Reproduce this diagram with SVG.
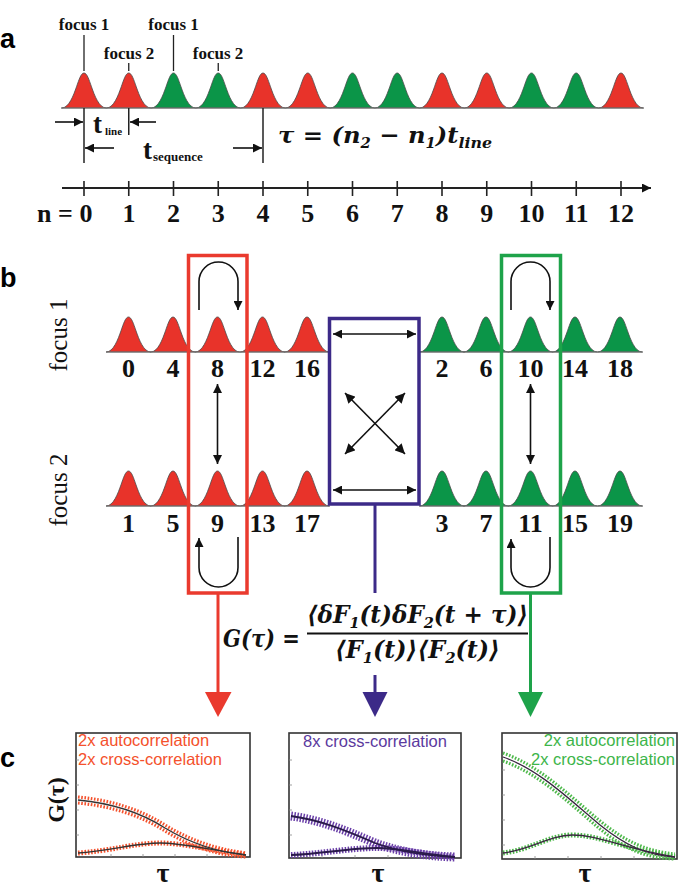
<svg xmlns="http://www.w3.org/2000/svg" xmlns:xlink="http://www.w3.org/1999/xlink" width="700" height="893" viewBox="0 0 700 893">
<style>
.ser{font-family:"Liberation Serif","Times New Roman",serif;font-weight:bold;fill:#111}
.serN{font-family:"Liberation Serif","Times New Roman",serif;fill:#111}
.math{font-family:"DejaVu Serif","Liberation Serif",serif;font-weight:bold;font-style:italic;fill:#111}
.plab{font-family:"Liberation Sans",Arial,sans-serif;font-weight:bold;font-size:27px;fill:#000}
.sans{font-family:"Liberation Sans",Arial,sans-serif;font-size:16.5px}
.red{fill:#E8332A}
.grn{fill:#0B9548}
.pkl{stroke:#4a4a4a;stroke-width:0.8}
.base{stroke:#777;stroke-width:1.2;fill:none}
.blk{stroke:#111;stroke-width:1.6;fill:none}
.box{fill:none;stroke-width:3.5}
.plot{fill:#fff;stroke:#333;stroke-width:1.6}
.tick{stroke:#888;stroke-width:0.8}
</style>
<defs>
<path id="pk" d="M-22.4,0 C-15,0 -10.5,-12.7 -7.5,-21.2 C-5,-28.3 -3,-35 0,-35 C3,-35 5,-28.3 7.5,-21.2 C10.5,-12.7 15,0 22.4,0 Z"/>
<marker id="ah" viewBox="0 0 10 10" refX="10" refY="5" markerWidth="11" markerHeight="9" markerUnits="userSpaceOnUse" orient="auto-start-reverse"><path d="M0,0 L10,5 L0,10 Z" fill="#111"/></marker>
<marker id="ahs" viewBox="0 0 10 10" refX="10" refY="5" markerWidth="11" markerHeight="10" markerUnits="userSpaceOnUse" orient="auto-start-reverse"><path d="M0,0 L10,5 L0,10 Z" fill="#111"/></marker>
</defs>
<rect width="700" height="893" fill="#fff"/>

<!-- panel a -->
<g id="panel-a">
<text class="plab" x="0" y="48">a</text>
<g id="a-labels" class="ser" font-size="17" text-anchor="middle">
<text x="84" y="30">focus 1</text>
<text x="129" y="59">focus 2</text>
<text x="173.5" y="30">focus 1</text>
<text x="218" y="59">focus 2</text>
</g>
<g stroke="#222" stroke-width="1.3">
<line x1="84" y1="35" x2="84" y2="71"/>
<line x1="128.75" y1="63" x2="128.75" y2="71"/>
<line x1="173.5" y1="35" x2="173.5" y2="71"/>
<line x1="218.25" y1="63" x2="218.25" y2="71"/>
</g>
<g id="a-peaks" class="pkl">
<use href="#pk" x="84" y="108" class="red"/>
<use href="#pk" x="128.75" y="108" class="red"/>
<use href="#pk" x="173.5" y="108" class="grn"/>
<use href="#pk" x="218.25" y="108" class="grn"/>
<use href="#pk" x="263" y="108" class="red"/>
<use href="#pk" x="307.75" y="108" class="red"/>
<use href="#pk" x="352.5" y="108" class="grn"/>
<use href="#pk" x="397.25" y="108" class="grn"/>
<use href="#pk" x="442" y="108" class="red"/>
<use href="#pk" x="486.75" y="108" class="red"/>
<use href="#pk" x="531.5" y="108" class="grn"/>
<use href="#pk" x="576.25" y="108" class="grn"/>
<use href="#pk" x="621" y="108" class="red"/>
</g>
<line class="base" x1="61" y1="108" x2="644" y2="108"/>
<g stroke="#222" stroke-width="1.5">
<line x1="84" y1="108" x2="84" y2="163"/>
<line x1="128.75" y1="108" x2="128.75" y2="135"/>
<line x1="263" y1="108" x2="263" y2="163"/>
</g>
<g class="blk">
<line x1="55" y1="122" x2="83" y2="122" marker-end="url(#ah)"/>
<line x1="156" y1="122" x2="130" y2="122" marker-end="url(#ah)"/>
<line x1="114" y1="148" x2="85" y2="148" marker-end="url(#ah)"/>
<line x1="233" y1="148" x2="262" y2="148" marker-end="url(#ah)"/>
</g>
<text class="ser" x="93" y="133" font-size="27">t</text>
<text class="ser" x="105" y="135" font-size="11">line</text>
<text class="ser" x="143" y="159" font-size="27">t</text>
<text class="ser" x="153" y="161" font-size="13">sequence</text>
<text class="math" x="278" y="143" font-size="23" textLength="214" lengthAdjust="spacingAndGlyphs">τ = (n<tspan dy="5" font-size="14">2</tspan><tspan dy="-5"> − n</tspan><tspan dy="5" font-size="14">1</tspan><tspan dy="-5">)t</tspan><tspan dy="5" font-size="15">line</tspan></text>
<!-- axis -->
<line x1="62" y1="188" x2="651" y2="188" stroke="#222" stroke-width="1.8" marker-end="url(#ah)"/>
<g stroke="#222" stroke-width="1.6">
<line x1="84" y1="181" x2="84" y2="196"/><line x1="128.75" y1="181" x2="128.75" y2="196"/>
<line x1="173.5" y1="181" x2="173.5" y2="196"/><line x1="218.25" y1="181" x2="218.25" y2="196"/>
<line x1="263" y1="181" x2="263" y2="196"/><line x1="307.75" y1="181" x2="307.75" y2="196"/>
<line x1="352.5" y1="181" x2="352.5" y2="196"/><line x1="397.25" y1="181" x2="397.25" y2="196"/>
<line x1="442" y1="181" x2="442" y2="196"/><line x1="486.75" y1="181" x2="486.75" y2="196"/>
<line x1="531.5" y1="181" x2="531.5" y2="196"/><line x1="576.25" y1="181" x2="576.25" y2="196"/>
<line x1="621" y1="181" x2="621" y2="196"/>
</g>
<g class="ser" font-size="26" text-anchor="middle">
<text x="55" y="222">n =</text>
<text x="86" y="222">0</text><text x="129" y="222">1</text><text x="173.5" y="222">2</text>
<text x="218.25" y="222">3</text><text x="263" y="222">4</text><text x="307.75" y="222">5</text>
<text x="352.5" y="222">6</text><text x="397.25" y="222">7</text><text x="442" y="222">8</text>
<text x="486.75" y="222">9</text><text x="531.5" y="222">10</text><text x="576.25" y="222">11</text>
<text x="621" y="222">12</text>
</g>
</g>

<!-- panel b -->
<g id="panel-b">
<text class="plab" x="0" y="287">b</text>
<text class="serN" font-size="25" text-anchor="middle" transform="translate(67,335) rotate(-90)">focus 1</text>
<text class="serN" font-size="25" text-anchor="middle" transform="translate(67,490) rotate(-90)">focus 2</text>
<g id="focus1-row" class="pkl">
<use href="#pk" x="128.5" y="352" class="red"/><use href="#pk" x="173" y="352" class="red"/>
<use href="#pk" x="217.5" y="352" class="red"/><use href="#pk" x="262.5" y="352" class="red"/>
<use href="#pk" x="307" y="352" class="red"/>
<use href="#pk" x="442" y="352" class="grn"/><use href="#pk" x="486" y="352" class="grn"/>
<use href="#pk" x="530.5" y="352" class="grn"/><use href="#pk" x="575" y="352" class="grn"/>
<use href="#pk" x="620" y="352" class="grn"/>
</g>
<line class="base" x1="106" y1="352" x2="330" y2="352"/>
<line class="base" x1="419" y1="352" x2="643" y2="352"/>
<g class="ser" font-size="26" text-anchor="middle">
<text x="128.5" y="377">0</text><text x="173" y="377">4</text><text x="217.5" y="377">8</text>
<text x="262.5" y="377">12</text><text x="307" y="377">16</text>
<text x="442" y="377">2</text><text x="486" y="377">6</text><text x="530.5" y="377">10</text>
<text x="575" y="377">14</text><text x="620" y="377">18</text>
</g>
<g id="focus2-row" class="pkl">
<use href="#pk" x="128.5" y="506" class="red"/><use href="#pk" x="173" y="506" class="red"/>
<use href="#pk" x="217.5" y="506" class="red"/><use href="#pk" x="262.5" y="506" class="red"/>
<use href="#pk" x="307" y="506" class="red"/>
<use href="#pk" x="442" y="506" class="grn"/><use href="#pk" x="486" y="506" class="grn"/>
<use href="#pk" x="530.5" y="506" class="grn"/><use href="#pk" x="575" y="506" class="grn"/>
<use href="#pk" x="620" y="506" class="grn"/>
</g>
<line class="base" x1="106" y1="506" x2="330" y2="506"/>
<line class="base" x1="419" y1="506" x2="643" y2="506"/>
<g class="ser" font-size="26" text-anchor="middle">
<text x="128.5" y="532">1</text><text x="173" y="532">5</text><text x="217.5" y="532">9</text>
<text x="262.5" y="532">13</text><text x="307" y="532">17</text>
<text x="442" y="532">3</text><text x="486" y="532">7</text><text x="530.5" y="532">11</text>
<text x="575" y="532">15</text><text x="620" y="532">19</text>
</g>
</g>

<g id="red-box">
<rect class="box" x="188.5" y="255.5" width="58.5" height="337.5" stroke="#EA3A2E"/>
<path class="blk" d="M199,310 V281.5 A19.5,19.5 0 0 1 238,281.5 V310" marker-end="url(#ah)"/>
<path class="blk" d="M238,537 V567.5 A19.5,19.5 0 0 1 199,567.5 V538" marker-end="url(#ah)"/>
<line class="blk" x1="217.5" y1="384" x2="217.5" y2="464" marker-start="url(#ah)" marker-end="url(#ah)"/>
</g>
<g id="green-box">
<rect class="box" x="501.5" y="255.5" width="59" height="337.5" stroke="#1EA34A"/>
<path class="blk" d="M511,310 V281.5 A19.5,19.5 0 0 1 550,281.5 V310" marker-end="url(#ah)"/>
<path class="blk" d="M550,537 V567.5 A19.5,19.5 0 0 1 511,567.5 V539" marker-end="url(#ah)"/>
<line class="blk" x1="530.5" y1="384" x2="530.5" y2="464" marker-start="url(#ah)" marker-end="url(#ah)"/>
</g>
<g id="purple-box">
<rect class="box" x="329.5" y="318.5" width="89.5" height="185.5" stroke="#3C2A88"/>
<line class="blk" x1="333" y1="334" x2="416" y2="334" marker-start="url(#ah)" marker-end="url(#ah)"/>
<line class="blk" x1="333" y1="490" x2="416" y2="490" marker-start="url(#ah)" marker-end="url(#ah)"/>
<line class="blk" x1="345" y1="393" x2="405" y2="454" marker-start="url(#ahs)" marker-end="url(#ahs)"/>
<line class="blk" x1="405" y1="393" x2="345" y2="454" marker-start="url(#ahs)" marker-end="url(#ahs)"/>
</g>

<!-- formula -->
<g id="formula">
<text class="math" x="223" y="647" font-size="24" textLength="77" lengthAdjust="spacingAndGlyphs">G(τ) =</text>
<text class="math" x="307" y="623" font-size="24" textLength="221" lengthAdjust="spacingAndGlyphs">⟨δF<tspan dy="5" font-size="15">1</tspan><tspan dy="-5">(t)δF</tspan><tspan dy="5" font-size="15">2</tspan><tspan dy="-5">(t + τ)⟩</tspan></text>
<line x1="307" y1="633.5" x2="528" y2="633.5" stroke="#111" stroke-width="2"/>
<text class="math" x="335" y="658" font-size="24" textLength="165" lengthAdjust="spacingAndGlyphs">⟨F<tspan dy="5" font-size="15">1</tspan><tspan dy="-5">(t)⟩⟨F</tspan><tspan dy="5" font-size="15">2</tspan><tspan dy="-5">(t)⟩</tspan></text>
</g>

<!-- connectors -->
<g id="connectors">
<line x1="218" y1="593" x2="218" y2="694" stroke="#EA3A2E" stroke-width="3"/>
<path d="M205,692 L231.5,692 L218,717 Z" fill="#EA3A2E"/>
<line x1="375" y1="504" x2="375" y2="593" stroke="#3C2A88" stroke-width="3"/>
<line x1="375" y1="675" x2="375" y2="694" stroke="#3C2A88" stroke-width="3"/>
<path d="M362.5,692 L387.5,692 L375,717 Z" fill="#3C2A88"/>
<line x1="530.5" y1="593" x2="530.5" y2="694" stroke="#1EA34A" stroke-width="3"/>
<path d="M518,692 L543,692 L530.5,717 Z" fill="#1EA34A"/>
</g>

<!-- panel c -->
<g id="panel-c">
<text class="plab" x="0" y="767">c</text>
<text class="ser" font-size="24" text-anchor="middle" transform="translate(64,800) rotate(-90)">G(τ)</text>
<g class="ser" font-size="28" text-anchor="middle">
<text x="163" y="882">τ</text><text x="378" y="882">τ</text><text x="585" y="882">τ</text>
</g>
</g>

<g id="plot-red">
<rect class="plot" x="76" y="733" width="174" height="124"/>
<g class="tick"><line x1="76" y1="760" x2="79" y2="760"/><line x1="76" y1="785" x2="79" y2="785"/><line x1="76" y1="810" x2="79" y2="810"/><line x1="76" y1="835" x2="79" y2="835"/>
<line x1="111" y1="857" x2="111" y2="854"/><line x1="143" y1="857" x2="143" y2="854"/><line x1="175" y1="857" x2="175" y2="854"/><line x1="207" y1="857" x2="207" y2="854"/></g>
<g fill="none" stroke="#F4512C" stroke-width="3.2" stroke-dasharray="1.6 1.6">
<path d="M78,797 C110,800 140,809 165,825 C190,840 215,849 246,853"/>
<path d="M78,803 C110,806 140,815 165,831 C190,846 215,855 246,857"/>
<path d="M78,853 C110,851 135,843 160,843 C180,843 200,848 246,855" stroke-width="5"/>
</g>
<g fill="none" stroke="#333" stroke-width="1.4">
<path d="M78,800 C110,803 140,812 165,828 C190,843 215,852 246,855"/>
<path d="M78,853 C110,851 135,843 160,843 C180,843 200,848 246,855"/>
</g>
<text class="sans" x="78" y="746" fill="#F4512C">2x autocorrelation</text>
<text class="sans" x="78" y="765" fill="#F4512C">2x cross-correlation</text>
</g>

<g id="plot-purple">
<rect class="plot" x="289" y="733" width="172" height="125"/>
<g class="tick"><line x1="289" y1="760" x2="292" y2="760"/><line x1="289" y1="785" x2="292" y2="785"/><line x1="289" y1="810" x2="292" y2="810"/><line x1="289" y1="835" x2="292" y2="835"/>
<line x1="322" y1="858" x2="322" y2="855"/><line x1="355" y1="858" x2="355" y2="855"/><line x1="388" y1="858" x2="388" y2="855"/><line x1="421" y1="858" x2="421" y2="855"/></g>
<g fill="none" stroke="#6A3FA8" stroke-width="9" stroke-dasharray="1.5 1.5">
<path d="M291,816 C320,820 345,830 375,843 C400,852 425,856 455,857"/>
<path d="M291,855 C320,854 350,848 377,848 C400,848 420,854 455,857" stroke-width="6"/>
</g>
<g fill="none" stroke="#2a1a4a" stroke-width="1.8">
<path d="M291,816 C320,820 345,830 375,843 C400,852 425,856 455,857"/>
<path d="M291,855 C320,854 350,848 377,848 C400,848 420,854 455,857"/>
</g>
<text class="sans" x="303" y="747" fill="#5B3A9E">8x cross-correlation</text>
</g>

<g id="plot-green">
<rect class="plot" x="502" y="733" width="175" height="126"/>
<g class="tick"><line x1="502" y1="770" x2="505" y2="770"/><line x1="502" y1="795" x2="505" y2="795"/><line x1="502" y1="820" x2="505" y2="820"/><line x1="502" y1="845" x2="505" y2="845"/>
<line x1="535" y1="859" x2="535" y2="856"/><line x1="568" y1="859" x2="568" y2="856"/><line x1="601" y1="859" x2="601" y2="856"/><line x1="634" y1="859" x2="634" y2="856"/></g>
<g fill="none" stroke="#4DB84A" stroke-width="3.2" stroke-dasharray="1.6 1.6">
<path d="M503,753 C540,766 570,796 600,821 C625,841 645,851 675,854"/>
<path d="M503,761 C540,774 570,804 600,829 C625,849 645,858 675,859"/>
<path d="M503,853 C530,850 550,835 572,835 C600,835 620,848 675,857" stroke-width="5"/>
</g>
<g fill="none" stroke="#3a2540" stroke-width="1.3">
<path d="M503,757 C540,770 570,800 600,825 C625,845 645,855 675,857"/>
<path d="M503,853 C530,850 550,835 572,835 C600,835 620,848 675,857"/>
</g>
<text class="sans" x="675" y="746" fill="#3DB54A" text-anchor="end">2x autocorrelation</text>
<text class="sans" x="675" y="765" fill="#3DB54A" text-anchor="end">2x cross-correlation</text>
</g>
</svg>
